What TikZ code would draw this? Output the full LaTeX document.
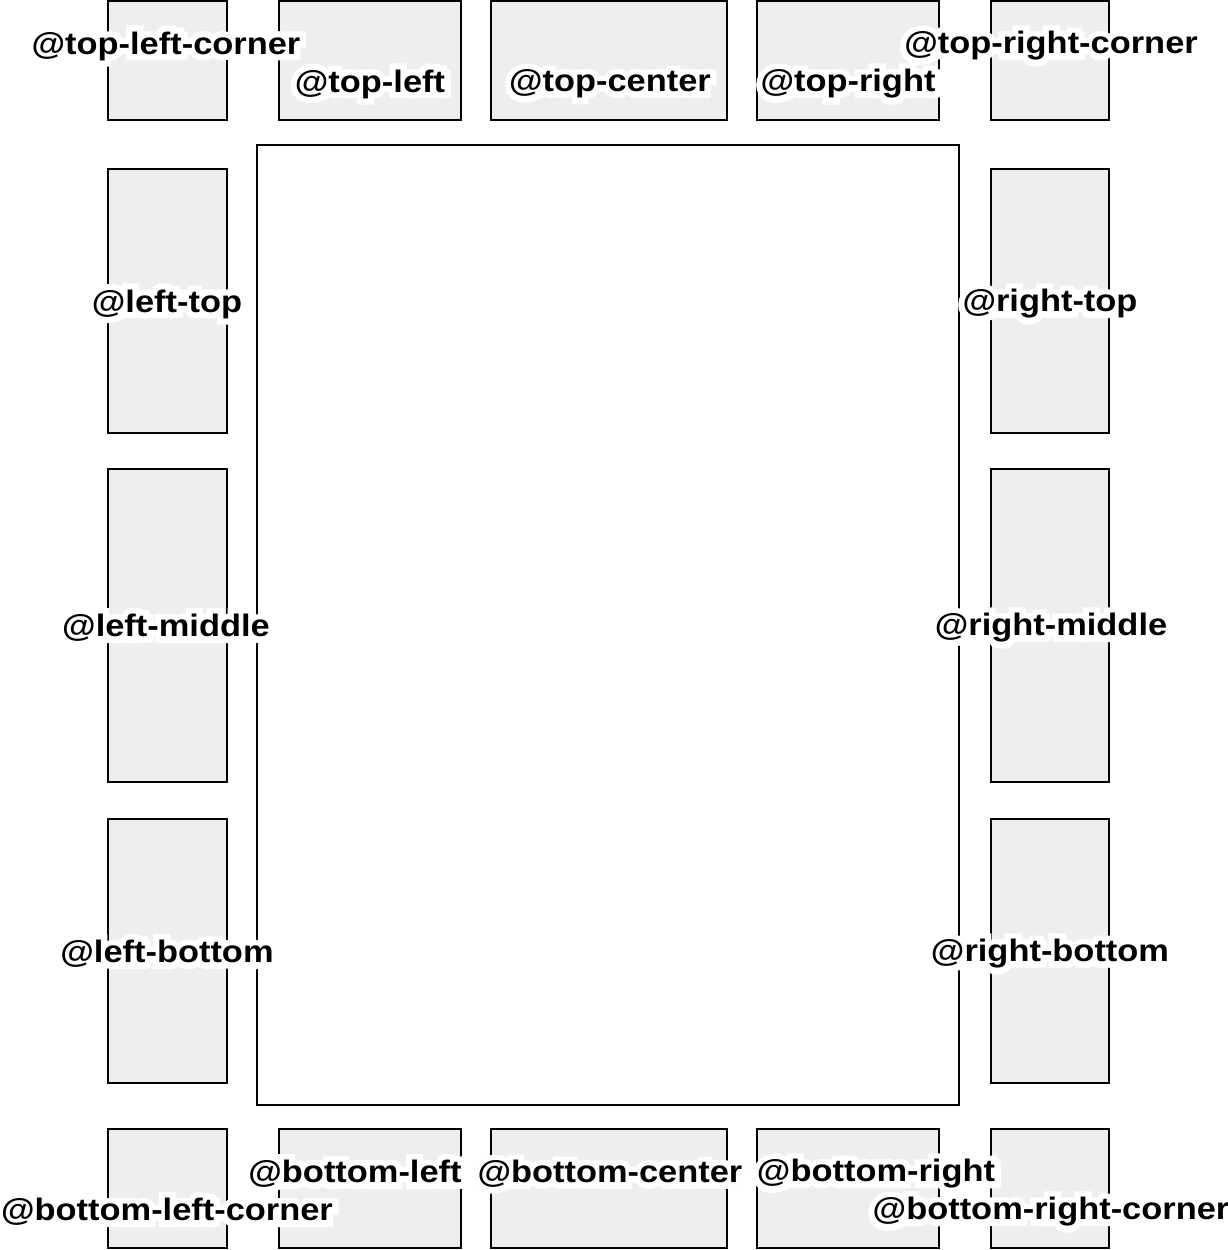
\documentclass[tikz,border=0pt]{standalone}
\usepackage{fontspec}
\setmainfont{Liberation Sans}[FakeStretch=1.11]
\newfontfamily\altfont{Liberation Sans Bold}[FakeStretch=1.109]
\newfontfamily\halofont{Liberation Sans Bold}[FakeStretch=1.11, FakeBold=40]
\newfontfamily\althalofont{Liberation Sans Bold}[FakeStretch=1.109, FakeBold=39]
\definecolor{boxfill}{HTML}{EEEEEE}
\definecolor{altblack}{RGB}{2,2,2}
\definecolor{altwhite}{RGB}{254,254,254}
\tikzset{
  gbox/.style={draw=black, line width=2bp, fill=boxfill, anchor=north west, inner sep=0pt, outer sep=0pt},
  mainbox/.style={draw=black, line width=2bp, fill=white, anchor=north west, inner sep=0pt, outer sep=0pt},
  lbl/.style={inner sep=0pt, font=\fontsize{31bp}{36bp}\selectfont\bfseries, text=black},
  halo/.style={inner sep=0pt, font=\fontsize{31bp}{36bp}\halofont, text=white},
  altlbl/.style={inner sep=0pt, font=\fontsize{31bp}{36bp}\altfont, text=altblack},
  althalo/.style={inner sep=0pt, font=\fontsize{31bp}{36bp}\althalofont, text=altwhite}
}
\newcommand\lab[3]{%
  \node[halo] (#1h) at (#2) {#3};
  \node[lbl] (#1) at (#2) {#3};}
\newcommand\altlab[3]{%
  \node[althalo] (#1h) at (#2) {#3};
  \node[altlbl] (#1) at (#2) {#3};}
\begin{document}
\begin{tikzpicture}[x=1bp,y=-1bp]
\useasboundingbox (0,0) rectangle (1228,1250);
% main box
\node[mainbox, minimum width=702bp, minimum height=960bp] (main) at (257,145) {};
% top row
\node[gbox, minimum width=119bp, minimum height=119bp] (tlc) at (108,1) {};
\node[gbox, minimum width=182bp, minimum height=119bp] (tl) at (279,1) {};
\node[gbox, minimum width=236bp, minimum height=119bp] (tc) at (491,1) {};
\node[gbox, minimum width=182bp, minimum height=119bp] (tr) at (757,1) {};
\node[gbox, minimum width=118bp, minimum height=119bp] (trc) at (991,1) {};
% left column
\node[gbox, minimum width=119bp, minimum height=264bp] (lt) at (108,169) {};
\node[gbox, minimum width=119bp, minimum height=313bp] (lm) at (108,469) {};
\node[gbox, minimum width=119bp, minimum height=264bp] (lb) at (108,819) {};
% right column
\node[gbox, minimum width=118bp, minimum height=264bp] (rt) at (991,169) {};
\node[gbox, minimum width=118bp, minimum height=313bp] (rm) at (991,469) {};
\node[gbox, minimum width=118bp, minimum height=264bp] (rb) at (991,819) {};
% bottom row
\node[gbox, minimum width=119bp, minimum height=119bp] (blc) at (108,1129) {};
\node[gbox, minimum width=182bp, minimum height=119bp] (bl) at (279,1129) {};
\node[gbox, minimum width=236bp, minimum height=119bp] (bc) at (491,1129) {};
\node[gbox, minimum width=182bp, minimum height=119bp] (br) at (757,1129) {};
\node[gbox, minimum width=118bp, minimum height=119bp] (brc) at (991,1129) {};
% labels
\lab{ltlc}{166,46}{@top-left-corner}
\lab{ltl}{370,84}{@top-left}
\altlab{ltc}{610,84}{@top-center}
\lab{ltr}{848,84}{@top-right}
\lab{ltrc}{1051,46}{@top-right-corner}
\lab{llt}{167,304}{@left-top}
\lab{llm}{166,628}{@left-middle}
\lab{llb}{167,954}{@left-bottom}
\lab{lrt}{1050,304}{@right-top}
\lab{lrm}{1051,628}{@right-middle}
\lab{lrb}{1050,954}{@right-bottom}
\lab{lbl}{355,1174}{@bottom-left}
\altlab{lbc}{610,1174}{@bottom-center}
\lab{lbr}{876,1174}{@bottom-right}
\lab{lblc}{167,1212}{@bottom-left-corner}
\lab{lbrc}{1051,1212}{@bottom-right-corner}
\end{tikzpicture}
\end{document}
